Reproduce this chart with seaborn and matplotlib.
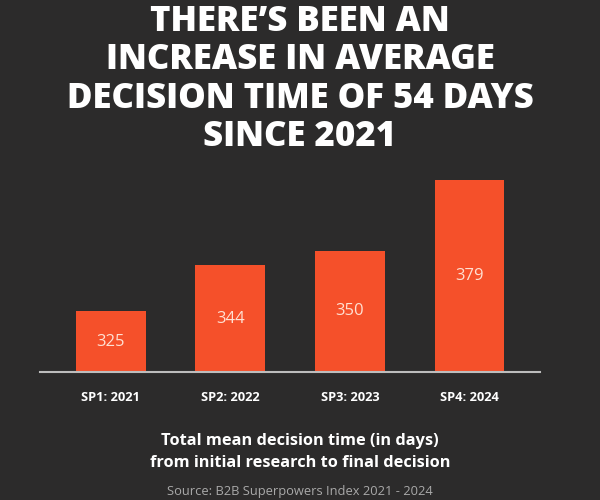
import matplotlib
matplotlib.use("Agg")
import matplotlib.pyplot as plt
import seaborn as sns
import pandas as pd

categories = ["SP1: 2021", "SP2: 2022", "SP3: 2023", "SP4: 2024"]
values = [325, 344, 350, 379]
title_lines = ["THERE’S BEEN AN", "INCREASE IN AVERAGE", "DECISION TIME OF 54 DAYS", "SINCE 2021"]
subtitle_lines = ["Total mean decision time (in days)", "from initial research to final decision"]
source = "Source: B2B Superpowers Index 2021 - 2024"

BG = "#2c2b2b"
BAR = "#f5502a"

sns.set_theme(style="white")
plt.rcParams["font.family"] = ["Open Sans", "DejaVu Sans"]

df = pd.DataFrame({"cat": categories, "val": values})

fig = plt.figure(figsize=(6, 5), dpi=100, facecolor=BG)
ax = fig.add_axes([0.0667, 0.256, 0.8333, 0.42])
ax.set_facecolor(BG)

sns.barplot(data=df, x="cat", y="val", color=BAR, width=0.585, saturation=1,
            linewidth=0, edgecolor=BAR, ax=ax)
ax.set_xlim(-0.593, 3.59)
ax.set_ylim(300, 300 + 0.42 * 500 / 2.426)

for c in ax.containers:
    ax.bar_label(c, labels=[str(v) for v in values], label_type="center",
                 color="#ffe0d2", fontsize=12, fontweight="normal")

for s in ["top", "right", "left"]:
    ax.spines[s].set_visible(False)
ax.spines["bottom"].set_color("#bdbdbd")
ax.spines["bottom"].set_linewidth(1.5)
ax.set_yticks([])
ax.set_xlabel("")
ax.set_ylabel("")
ax.tick_params(axis="x", length=0, pad=14, colors="white")
for lab in ax.get_xticklabels():
    lab.set_fontweight("bold")
    lab.set_fontsize(9.3)
    lab.set_color("white")

title_y = [22, 60, 99, 137]
for line, y in zip(title_lines, title_y):
    fig.text(0.5, 1 - y / 500, line, ha="center", va="center",
             color="white", fontsize=25, fontweight="heavy")

fig.text(0.5, 1 - 441 / 500, subtitle_lines[0], ha="center", va="center",
         color="white", fontsize=11.8, fontweight="bold")
fig.text(0.5, 1 - 463 / 500, subtitle_lines[1], ha="center", va="center",
         color="white", fontsize=11.8, fontweight="bold")
fig.text(0.5, 1 - 491 / 500, source, ha="center", va="center",
         color="#a9a9a9", fontsize=9.3)

fig.savefig("out.png", dpi=100, facecolor=BG)
